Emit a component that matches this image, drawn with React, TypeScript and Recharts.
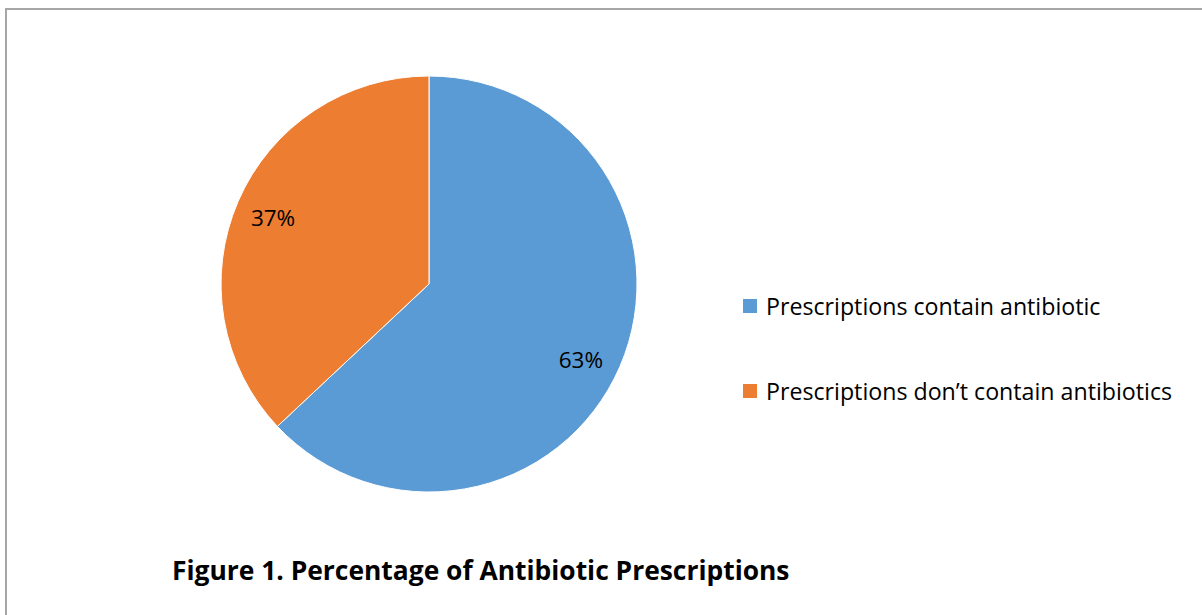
import { PieChart, Pie, Cell, Legend } from "recharts";

const categories = [
  "Prescriptions contain antibiotic",
  "Prescriptions don\u2019t contain antibiotics",
];
const percentages = [63, 37];
const colors = ["#5B9BD5", "#ED7D31"];

const data = categories.map((name, i) => ({ name, value: percentages[i] }));

const RADIAN = Math.PI / 180;
const FONT = "'Open Sans', sans-serif";

// excel pushes the big slice's label a little further round
const renderLabel = (props: any) => {
  const { cx, cy, midAngle, outerRadius, value, index } = props;
  const r = outerRadius * 0.815;
  const angle = midAngle + (index === 0 ? -3 : 0.3);
  const x = cx + r * Math.cos(-angle * RADIAN);
  const y = cy + r * Math.sin(-angle * RADIAN);
  return (
    <text
      x={x}
      y={y}
      fill="#000"
      textAnchor="middle"
      dominantBaseline="central"
      fontSize={22.5}
      fontFamily={FONT}
    >
      {`${value}%`}
    </text>
  );
};

const renderLegend = () => (
  <div style={{ fontFamily: FONT, fontSize: 23.2, color: "#000" }}>
    {data.map((d, i) => (
      <div
        key={d.name}
        style={{ display: "flex", alignItems: "center", height: 30, marginBottom: i === 0 ? 55 : 0 }}
      >
        <span
          style={{
            display: "inline-block",
            width: 14,
            height: 14,
            background: colors[i],
            marginRight: 9,
          }}
        />
        <span>{d.name}</span>
      </div>
    ))}
  </div>
);

export default function App() {
  return (
    <div
      style={{
        position: "absolute",
        left: 0,
        top: 0,
        width: 1202,
        height: 615,
        background: "#fff",
      }}
    >
      <div
        style={{
          position: "absolute",
          left: 5,
          top: 8,
          width: 1197,
          height: 607,
          borderTop: "2px solid #a6a6a6",
          borderLeft: "2px solid #a6a6a6",
        }}
      />
      <PieChart width={1202} height={615} margin={{ top: 0, right: 0, bottom: 0, left: 0 }}>
        <Pie
          data={data}
          dataKey="value"
          nameKey="name"
          cx={429}
          cy={284}
          outerRadius={208}
          startAngle={90}
          endAngle={-270}
          stroke="#fff"
          strokeWidth={1}
          label={renderLabel}
          labelLine={false}
          isAnimationActive={false}
        >
          {data.map((d, i) => (
            <Cell key={`cell-${i}`} fill={colors[i]} />
          ))}
        </Pie>
        <Legend
          content={renderLegend}
          wrapperStyle={{ left: 743, top: 291, width: 460 }}
        />
      </PieChart>
      <div
        style={{
          position: "absolute",
          left: 172,
          top: 552,
          fontFamily: FONT,
          fontWeight: "bold",
          fontSize: 26.4,
          color: "#000",
          whiteSpace: "nowrap",
        }}
      >
        Figure 1. Percentage of Antibiotic Prescriptions
      </div>
    </div>
  );
}
